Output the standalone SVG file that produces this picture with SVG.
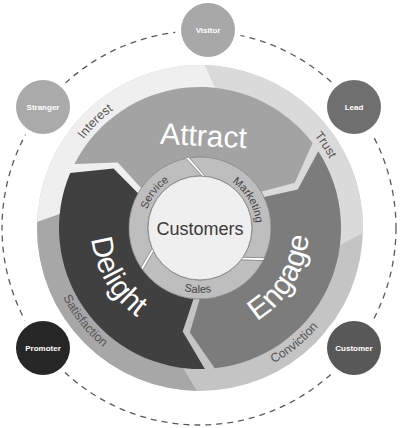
<svg xmlns="http://www.w3.org/2000/svg" width="400" height="428" viewBox="0 0 400 428">
<style>
.node-bg{fill:#fff}
.lbl{font-family:"Liberation Sans",Arial,sans-serif;fill:#fff;font-weight:bold;font-size:8px;text-anchor:middle}
.big{font-family:"Liberation Sans",Arial,sans-serif;fill:#fff;font-size:30px}
.outer{font-family:"Liberation Sans",Arial,sans-serif;fill:#555;font-size:12.5px}
.ring{font-family:"Liberation Sans",Arial,sans-serif;fill:#444;font-size:11px}
.seg{fill:#bebebe;stroke:#7e7e7e;stroke-width:0.8}
</style>
<defs>
<clipPath id="disc"><circle cx="200" cy="228" r="163"/></clipPath>
<path id="pService" d="M145.2,239.6 A56,56 0 0,1 198,172"/>
<path id="pMarketing" d="M209.7,172.9 A56,56 0 0,1 252.6,247.2"/>
<path id="pSales" d="M156.5,276.3 A65,65 0 0,0 240,279.2"/>
<path id="pInterest" d="M62.8,176.7 A146.5,146.5 0 0,1 151.1,89.9"/>
<path id="pTrust" d="M287.4,109.8 A147,147 0 0,1 342.9,193.7"/>
<path id="pConviction" d="M225.1,379.9 A154,154 0 0,0 344.1,282.2"/>
<path id="pSatisfaction" d="M48.3,251.8 A153.5,153.5 0 0,0 144.7,371.2"/>
<path id="pEngage" d="M234.8,331.4 A109,109 0 0,0 307.8,211.7"/>
<path id="pDelight" d="M92.6,209.6 A109,109 0 0,0 163.2,330.6"/>
</defs>

<g id="connectors">
<circle cx="199" cy="228" r="197" fill="none" stroke="#5a5a5a" stroke-width="1.3" stroke-dasharray="6 5"/>
</g>

<g id="wheel">
<g clip-path="url(#disc)">
<rect x="0" y="0" width="400" height="428" fill="#c4c4c4"/>
<polygon fill="#efefef" points="200,228 117.5,194 14,230 -100,270 -100,-100 130,-100 245,153"/>
<polygon fill="#dadada" points="200,228 245,153 130,-100 500,-100 500,161.5 294,269"/>
<polygon fill="#a7a7a7" points="200,228 155,321 262,500 -100,500 -100,270 14,230 117.5,194"/>
</g>
<text class="outer"><textPath href="#pInterest" startOffset="50%" text-anchor="middle">Interest</textPath></text>
<text class="outer"><textPath href="#pTrust" startOffset="50%" text-anchor="middle">Trust</textPath></text>
<text class="outer"><textPath href="#pConviction" startOffset="50%" text-anchor="middle">Conviction</textPath></text>
<text class="outer"><textPath href="#pSatisfaction" startOffset="50%" text-anchor="middle">Satisfaction</textPath></text>
</g>

<g id="attract">
<path fill="#a3a3a3" d="M74.4,164 A141,141 0 0,1 312.6,143.1 L294.8,182.8 L260,191.9 A70,70 0 0,0 142,188.9 L117.8,162.6 Z"/>
<text class="big" x="203" y="146" text-anchor="middle" transform="rotate(3 203 146)">Attract</text>
</g>
<g id="engage">
<path fill="#7c7c7c" d="M318.3,151.2 A141,141 0 0,1 214.7,368.2 L189.9,332.5 L200,298 A70,70 0 0,0 262.9,197.3 L297.7,189.5 Z"/>
<text class="big"><textPath href="#pEngage" startOffset="50%" text-anchor="middle">Engage</textPath></text>
</g>
<g id="delight">
<path fill="#404040" d="M204.9,368.9 A141,141 0 0,1 70.2,172.9 L113.5,168.5 L138.8,194.1 A70,70 0 0,0 193.9,297.7 L182.7,331.6 Z"/>
<text class="big"><textPath href="#pDelight" startOffset="50%" text-anchor="middle">Delight</textPath></text>
</g>

<g id="customers">
<circle cx="200" cy="228" r="71" fill="#fff"/>
<path class="seg" d="M140.9,267.4 A71,71 0 0,1 186.1,158.4 L202.1,176 A52,52 0 0,0 152.2,248.6 Z"/>
<path class="seg" d="M189.3,157.8 A71,71 0 0,1 264.5,257.7 L243,257.3 A52,52 0 0,0 205.2,176.3 Z"/>
<path class="seg" d="M263.1,260.6 A71,71 0 0,1 142.8,270 L153.5,251.4 A52,52 0 0,0 241.1,259.8 Z"/>
<circle cx="200" cy="228" r="52" fill="#efefef" stroke="#8a8a8a" stroke-width="1"/>
<text class="ring"><textPath href="#pService" startOffset="50%" text-anchor="middle">Service</textPath></text>
<text class="ring"><textPath href="#pMarketing" startOffset="50%" text-anchor="middle">Marketing</textPath></text>
<text class="ring"><textPath href="#pSales" startOffset="50%" text-anchor="middle">Sales</textPath></text>
<text x="200" y="235" text-anchor="middle" font-family="Liberation Sans, Arial, sans-serif" font-size="18" fill="#3a3a3a">Customers</text>
</g>

<g id="visitor">
<circle class="node-bg" cx="208" cy="30" r="33"/>
<circle cx="208" cy="30" r="27" fill="#a8a8a8"/>
<text class="lbl" x="208" y="33">Visitor</text>
</g>
<g id="stranger">
<circle class="node-bg" cx="43" cy="107" r="33"/>
<circle cx="43" cy="107" r="27" fill="#aaaaaa"/>
<text class="lbl" x="43" y="110">Stranger</text>
</g>
<g id="lead">
<circle class="node-bg" cx="354" cy="107" r="33"/>
<circle cx="354" cy="107" r="27" fill="#6f6f6f"/>
<text class="lbl" x="354" y="110">Lead</text>
</g>
<g id="customer">
<circle class="node-bg" cx="354" cy="348" r="33"/>
<circle cx="354" cy="348" r="27" fill="#585858"/>
<text class="lbl" x="354" y="351">Customer</text>
</g>
<g id="promoter">
<circle class="node-bg" cx="43" cy="348" r="33"/>
<circle cx="43" cy="348" r="27" fill="#262626"/>
<text class="lbl" x="43" y="351">Promoter</text>
</g>
</svg>
